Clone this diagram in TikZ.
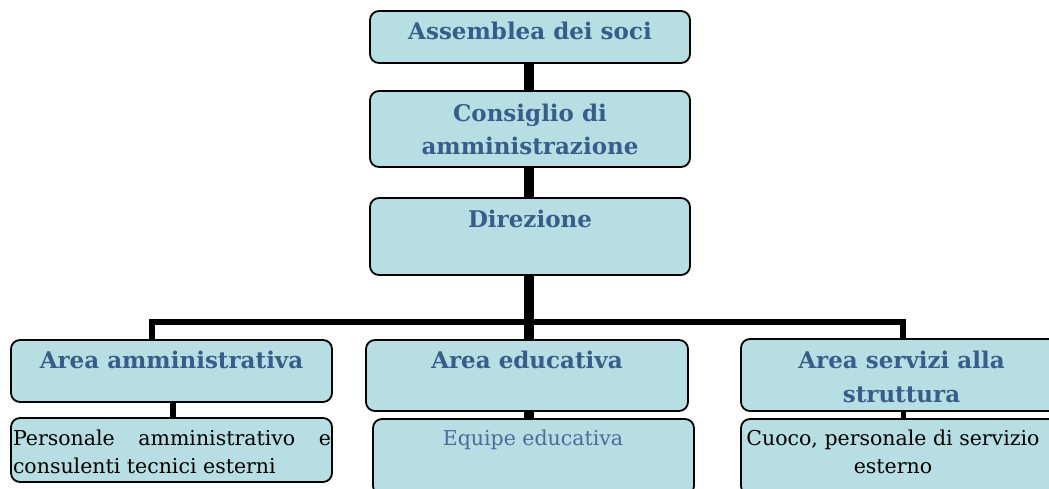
\documentclass[tikz,border=0pt]{standalone}
\usepackage{fontspec}
\setmainfont{DejaVu Serif}
\usetikzlibrary{backgrounds}
\definecolor{boxfill}{HTML}{B7DEE3}
\definecolor{titleblue}{HTML}{385D8A}
\definecolor{bodyblue}{HTML}{4A6C9B}
\tikzset{
  box/.style={draw=black, line width=1.8pt, rounded corners=9pt, fill=boxfill, inner sep=0pt},
  title/.style={font=\fontsize{23}{33.5}\selectfont\bfseries, text=titleblue, align=center, inner sep=0pt},
  body/.style={font=\fontsize{20.5}{28}\selectfont, text=black, inner sep=0pt},
  thick conn/.style={line width=10pt},
  conn/.style={line width=6pt}
}
\begin{document}
\begin{tikzpicture}[x=1pt,y=-1pt]
\useasboundingbox (0,0) rectangle (1049,488);
\clip (0,0) rectangle (1049,488);
% boxes
\node[box, minimum width=320, minimum height=52] (ass) at (530,37) {};
\node[box, minimum width=320, minimum height=76] (cons) at (530,129) {};
\node[box, minimum width=320, minimum height=77] (dir) at (530,236.5) {};
\node[box, minimum width=321, minimum height=62] (aam) at (171.5,371) {};
\node[box, minimum width=321, minimum height=64] (pers) at (171.5,450) {};
\node[box, minimum width=322, minimum height=71] (aed) at (527,375.5) {};
\node[box, minimum width=321, minimum height=76] (equ) at (533.5,457) {};
\node[box, minimum width=321, minimum height=72] (ase) at (901.5,375) {};
\node[box, minimum width=321, minimum height=76] (cuo) at (901.5,457) {};
% connectors
\coordinate (hm) at (529,322);
\coordinate (hl) at (152,322);
\coordinate (hr) at (903,322);
\begin{pgfonlayer}{background}
\draw[thick conn] (ass.south -| hm) -- (cons.north -| hm);
\draw[thick conn] (cons.south -| hm) -- (dir.north -| hm);
\draw[thick conn] (dir.south -| hm) -- (hm);
\draw[conn] (hl |- aam.north) -- (hl) -- (hr) -- (hr |- ase.north);
\draw[thick conn] (hm) -- (aed.north -| hm);
\draw[conn] ([xshift=1pt]aam.south) -- ([xshift=1pt]aam.south |- pers.north);
\draw[line width=10pt] (aed.south -| hm) -- (equ.north -| hm);
\draw[line width=5pt] (aed.south -| hr) -- (cuo.north -| hr);
\end{pgfonlayer}
% texts
\node[title] (t1) at (530,31) {Assemblea dei soci};
\node[title] (t2) at (530,129.5) {Consiglio di\\amministrazione};
\node[title] (t3) at (530,219) {Direzione};
\node[title] (t4) at (171.5,360) {Area amministrativa};
\node[title] (t5) at (527,360) {Area educativa};
\node[title] (t6) at (901.5,377) {Area servizi alla\\struttura};
\node[body, text width=318, align=justify, anchor=center] (b1) at (172,452) {\hyphenpenalty=10000 Personale amministrativo e\linebreak consulenti tecnici esterni};
\node[body, text=bodyblue] (b2) at (533,440) {Equipe educativa};
\node[body, align=center] (b3) at (893,452) {Cuoco, personale di servizio\\esterno};
\end{tikzpicture}
\end{document}
